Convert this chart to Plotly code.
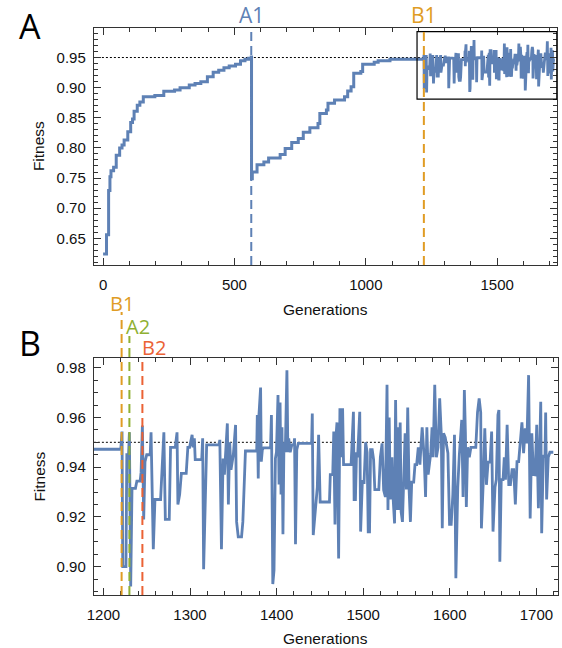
import plotly.graph_objects as go

# ---------------- data ----------------
# Phase of steady growth (drawn as steps)
growth_gen = [0, 13, 21, 26, 30, 40, 50, 63, 72, 80, 94, 105, 112, 118, 130, 140, 153, 197,
              231, 272, 293, 328, 350, 372, 397, 419, 440, 460, 480, 504, 523, 540, 554, 564,
              565, 568, 586, 612, 630, 674, 693, 718, 743, 762, 787, 818, 825, 850, 856, 881,
              919, 931, 944, 954, 981, 988, 1032, 1047, 1092, 1220]
growth_fit = [0.624, 0.656, 0.7295, 0.752, 0.762, 0.768, 0.788, 0.800, 0.805, 0.813, 0.827, 0.842,
              0.848, 0.861, 0.871, 0.876, 0.885, 0.887, 0.894, 0.896, 0.900, 0.9045, 0.907, 0.910,
              0.918, 0.9257, 0.929, 0.933, 0.936, 0.939, 0.9445, 0.947, 0.949, 0.9507,
              0.749, 0.760, 0.772, 0.7767, 0.7833, 0.789, 0.799, 0.809, 0.8158, 0.8258, 0.8333,
              0.8407, 0.857, 0.8628, 0.874, 0.8795, 0.885, 0.8945, 0.9017, 0.924, 0.9267, 0.939,
              0.942, 0.9445, 0.9472, 0.9472]

# Fluctuating phase
search_gen = [1220, 1221.5, 1222.3, 1226, 1227, 1229, 1230, 1231.5, 1233, 1237, 1238.6, 1242.4,
              1243.5, 1245, 1246.5, 1248, 1250, 1254, 1255, 1257.6, 1259.5, 1266, 1269.8, 1271.5,
              1276, 1277.5, 1283, 1285, 1286, 1288, 1290, 1295.6, 1297.5, 1299.5, 1302.4, 1303.5,
              1305, 1306, 1313.5, 1314.6, 1315.7, 1317.6, 1319.2, 1333.6, 1334.4, 1336.3, 1338.2,
              1339.7, 1343.1, 1344.3, 1345.8, 1347.3, 1350, 1352.6, 1353.8, 1355.7, 1359.5, 1361,
              1364, 1377, 1377.7, 1378.8, 1379.6, 1381.5, 1382.3, 1383.5, 1385, 1393, 1394, 1395.6,
              1397, 1398.6, 1399.8, 1401.6, 1402.8, 1404, 1405.1, 1406.2, 1407.3, 1408.5, 1410,
              1411.9, 1413, 1414, 1415.7, 1417.6, 1420, 1420.7, 1421.8, 1423.3, 1425, 1440.4,
              1441.2, 1442.3, 1444.2, 1446, 1447, 1448.5, 1450.3, 1461, 1462, 1464.8, 1466, 1467.4,
              1468.5, 1469.7, 1470.5, 1471.6, 1473.1, 1474.6, 1476.2, 1477.3, 1486, 1488.7, 1489.5,
              1491, 1492.3, 1493.5, 1496, 1497, 1499, 1501, 1502.8, 1504.5, 1505.8, 1507.3, 1508.5,
              1510.4, 1512, 1513.4, 1518, 1519.8, 1521.8, 1523.6, 1525.6, 1527.5, 1528.6, 1530,
              1531.3, 1533.2, 1534.3, 1536.2, 1537.4, 1538.9, 1540.4, 1541.5, 1542.7, 1543.8,
              1545.3, 1546.9, 1548.4, 1549.9, 1551.4, 1553, 1554.5, 1556, 1558.3, 1559.8, 1561.7,
              1563.6, 1565.5, 1566.6, 1568.1, 1570.4, 1572, 1573.5, 1575, 1578, 1579.5, 1580.7,
              1582.6, 1584.5, 1586.4, 1588.3, 1590.2, 1591.3, 1592.8, 1594.7, 1596.6, 1597.8,
              1599.7, 1601.6, 1603.5, 1605.4, 1607, 1608.1, 1609.2, 1611, 1612.3, 1613.8, 1615.3,
              1616.8, 1618, 1619.1, 1620.6, 1622.5, 1624.4, 1630, 1632, 1633.9, 1635.7, 1636.5,
              1638.5, 1640.4, 1642.3, 1644.2, 1646.5, 1648.3, 1649.9, 1652.2, 1653.7, 1655.6,
              1656.7, 1657.8, 1659.4, 1661.5, 1662.9, 1664.3, 1666.2, 1668.1, 1670, 1671.9, 1673.8,
              1675.7, 1677.6, 1679.5, 1683.3, 1685.2, 1687.1, 1689, 1691, 1692.8, 1694.7, 1696.6,
              1698.5, 1700.4, 1702.3, 1703.4, 1705, 1706.1, 1708, 1709.9, 1710.7, 1711.8, 1713.7,
              1715.6, 1719.5]
search_fit = [0.9472, 0.9543, 0.900, 0.900, 0.945, 0.945, 0.954, 0.892, 0.9315, 0.9315, 0.9344,
              0.9344, 0.938, 0.9567, 0.919, 0.9422, 0.945, 0.945, 0.954, 0.907, 0.927, 0.927, 0.954,
              0.919, 0.919, 0.948, 0.948, 0.954, 0.925, 0.929, 0.9375, 0.9375, 0.948, 0.948, 0.953,
              0.948, 0.9516, 0.943, 0.943, 0.9516, 0.899, 0.929, 0.949, 0.949, 0.951, 0.907, 0.9435,
              0.937, 0.9576, 0.925, 0.950, 0.939, 0.945, 0.957, 0.918, 0.912, 0.912, 0.918,
              0.9465, 0.9465, 0.961, 0.9355, 0.961, 0.972, 0.9422, 0.947, 0.9478, 0.9478, 0.961,
              0.893, 0.8986, 0.9435, 0.946, 0.969, 0.933, 0.966, 0.929, 0.956, 0.913, 0.950, 0.946,
              0.979, 0.946, 0.9516, 0.946, 0.949, 0.949, 0.9516, 0.909, 0.947, 0.9496, 0.9496,
              0.9616, 0.9127, 0.920, 0.929, 0.932, 0.953, 0.926, 0.926, 0.937, 0.937, 0.9543, 0.917,
              0.952, 0.958, 0.9235, 0.9033, 0.9637, 0.944, 0.9637, 0.941, 0.941, 0.9623, 0.927,
              0.927, 0.946, 0.944, 0.9623, 0.9141, 0.9342, 0.934, 0.950, 0.946, 0.914, 0.914, 0.947,
              0.947, 0.943, 0.931, 0.931, 0.944, 0.9496, 0.9308, 0.928, 0.9731, 0.9228, 0.960,
              0.927, 0.944, 0.929, 0.9174, 0.967, 0.9228, 0.956, 0.9228, 0.958, 0.922,
              0.918, 0.9362, 0.9536, 0.931, 0.964, 0.931, 0.918, 0.934, 0.934, 0.941, 0.941,
              0.948, 0.941, 0.948, 0.956, 0.944, 0.928, 0.956, 0.937, 0.9456, 0.956, 0.944,
              0.9731, 0.944, 0.948, 0.9677, 0.953, 0.9154, 0.9536, 0.952, 0.948, 0.9456,
              0.917, 0.917, 0.929, 0.953, 0.8953, 0.9134, 0.932, 0.945, 0.953, 0.959, 0.928,
              0.971, 0.954, 0.924, 0.948, 0.944, 0.948, 0.948, 0.962, 0.9677, 0.962, 0.9154,
              0.933, 0.9556, 0.9329, 0.942, 0.942, 0.9543, 0.9141, 0.932, 0.935, 0.961,
              0.963, 0.902, 0.935, 0.935, 0.944, 0.935, 0.957, 0.933, 0.933, 0.939, 0.939,
              0.925, 0.9422, 0.9422, 0.958, 0.9456, 0.9556, 0.9496, 0.977, 0.9194, 0.9536, 0.937,
              0.9369, 0.957, 0.9235, 0.937, 0.9663, 0.9134, 0.945, 0.944, 0.962, 0.927, 0.944,
              0.946, 0.946]

target_fitness = 0.95
event_names = ["A1", "B1", "A2", "B2"]
event_gens = [564, 1221, 1230, 1245]
event_colors = ["#5E81B5", "#E09C24", "#8FB032", "#EB6235"]
inset_gen = [1195, 1727]
inset_fit = [0.881, 0.993]

# ---------------- figure ----------------
W, H = 562, 648
BLUE = "#5E81B5"
FRAME = "#333333"
TICKFONT = dict(family="Arial, Liberation Sans, sans-serif", size=15, color="#111")
LABFONT = dict(family="Arial, Liberation Sans, sans-serif", size=15.5, color="#111")
LETTERFONT = "Open Sans, sans-serif"


def px_x(p):
    return p / W


def px_y(p):
    return 1 - p / H


fig = go.Figure()
for xa, ya in (("x", "y"), ("x2", "y2")):
    fig.add_trace(go.Scatter(x=growth_gen, y=growth_fit, mode="lines", xaxis=xa, yaxis=ya,
                             line=dict(color=BLUE, width=3, shape="hv"), showlegend=False,
                             hoverinfo="skip"))
    fig.add_trace(go.Scatter(x=search_gen, y=search_fit, mode="lines", xaxis=xa, yaxis=ya,
                             line=dict(color=BLUE, width=2.8), showlegend=False,
                             hoverinfo="skip"))

axis_common = dict(showline=True, linecolor=FRAME, linewidth=1.2, mirror="allticks",
                   ticks="inside", tickcolor=FRAME, ticklen=7, tickwidth=1,
                   showgrid=False, zeroline=False, tickfont=TICKFONT)

fig.update_layout(
    width=W, height=H, margin=dict(l=0, r=0, t=0, b=0),
    paper_bgcolor="white", plot_bgcolor="white",
    xaxis=dict(domain=[px_x(88), px_x(557)], range=[-35, 1728], anchor="y",
               tickvals=[0, 500, 1000, 1500],
               minor=dict(dtick=100, tick0=0, ticks="inside", ticklen=4, tickcolor=FRAME),
               ticklabelstandoff=6, **axis_common),
    yaxis=dict(domain=[px_y(265), px_y(28)], range=[0.6057, 0.999], anchor="x",
               tickvals=[0.65, 0.70, 0.75, 0.80, 0.85, 0.90, 0.95], tickformat=".2f",
               minor=dict(dtick=0.01, tick0=0.6, ticks="inside", ticklen=4, tickcolor=FRAME),
               ticklabelstandoff=4, **axis_common),
    xaxis2=dict(domain=[px_x(88), px_x(558)], range=[1189, 1725], anchor="y2",
                tickvals=[1200, 1300, 1400, 1500, 1600, 1700],
                minor=dict(dtick=20, tick0=1200, ticks="inside", ticklen=4, tickcolor=FRAME),
                ticklabelstandoff=6, **axis_common),
    yaxis2=dict(domain=[px_y(595), px_y(358)], range=[0.8886, 0.9839], anchor="x2",
                tickvals=[0.90, 0.92, 0.94, 0.96, 0.98], tickformat=".2f",
                minor=dict(dtick=0.005, tick0=0.88, ticks="inside", ticklen=4, tickcolor=FRAME),
                ticklabelstandoff=4, **axis_common),
)

shapes = []
for xd, ya in (("x domain", "y"), ("x2 domain", "y2")):
    shapes.append(dict(type="line", xref=xd, yref=ya, x0=0, x1=1, y0=target_fitness,
                       y1=target_fitness, line=dict(color="black", width=1, dash="2px,2px"),
                       layer="below"))
shapes.append(dict(type="rect", xref="x", yref="y", x0=inset_gen[0], x1=inset_gen[1],
                   y0=inset_fit[0], y1=inset_fit[1], line=dict(color="black", width=1.2)))

annotations = []
for name, g, c in zip(event_names, event_gens, event_colors):
    if name in ("A1", "B1"):
        shapes.append(dict(type="line", xref="x", yref="paper", x0=g, x1=g,
                           y0=px_y(265), y1=px_y(28),
                           line=dict(color=c, width=2, dash="9px,5px")))
        annotations.append(dict(x=g, y=px_y(15), xref="x", yref="paper", text=name,
                                showarrow=False, xanchor="center", yanchor="middle",
                                font=dict(family=LETTERFONT, size=21, color=c)))
b_top = {"B1": 312, "A2": 336, "B2": 357}
b_lab_y = {"B1": 303, "A2": 326, "B2": 347}
b_shift = {"B1": 0, "A2": 9, "B2": 12}
for name, g, c in zip(event_names, event_gens, event_colors):
    if name in b_top:
        shapes.append(dict(type="line", xref="x2", yref="paper", x0=g, x1=g,
                           y0=px_y(595), y1=px_y(b_top[name]),
                           line=dict(color=c, width=2, dash="9px,5px")))
        annotations.append(dict(x=g, y=px_y(b_lab_y[name]), xref="x2", yref="paper", text=name,
                                showarrow=False, xanchor="center", yanchor="middle",
                                xshift=b_shift[name],
                                font=dict(family=LETTERFONT, size=20, color=c)))

annotations.append(dict(x=px_x(23.5), y=px_y(26), xref="paper", yref="paper", text="A",
                        showarrow=False, xanchor="center", yanchor="middle",
                        font=dict(family=LETTERFONT, size=34, color="black")))
annotations.append(dict(x=px_x(23), y=px_y(343), xref="paper", yref="paper", text="B",
                        showarrow=False, xanchor="center", yanchor="middle",
                        font=dict(family=LETTERFONT, size=34, color="black")))
annotations.append(dict(x=px_x(32), y=px_y(146.5), xref="paper", yref="paper", text="Fitness",
                        showarrow=False, textangle=-90, xanchor="center", yanchor="middle",
                        font=LABFONT))
annotations.append(dict(x=px_x(32), y=px_y(477), xref="paper", yref="paper", text="Fitness",
                        showarrow=False, textangle=-90, xanchor="center", yanchor="middle",
                        font=LABFONT))
annotations.append(dict(x=px_x(323), y=px_y(309), xref="paper", yref="paper", text="Generations",
                        showarrow=False, xanchor="center", yanchor="middle", font=LABFONT))
annotations.append(dict(x=px_x(323), y=px_y(638), xref="paper", yref="paper", text="Generations",
                        showarrow=False, xanchor="center", yanchor="middle", font=LABFONT))

fig.update_layout(shapes=shapes, annotations=annotations)
fig.write_html(
    "out.html",
    config={"displayModeBar": False},
    post_script="document.body.style.margin='0px';document.body.style.padding='0px';"
                "document.documentElement.style.overflow='hidden';",
)
